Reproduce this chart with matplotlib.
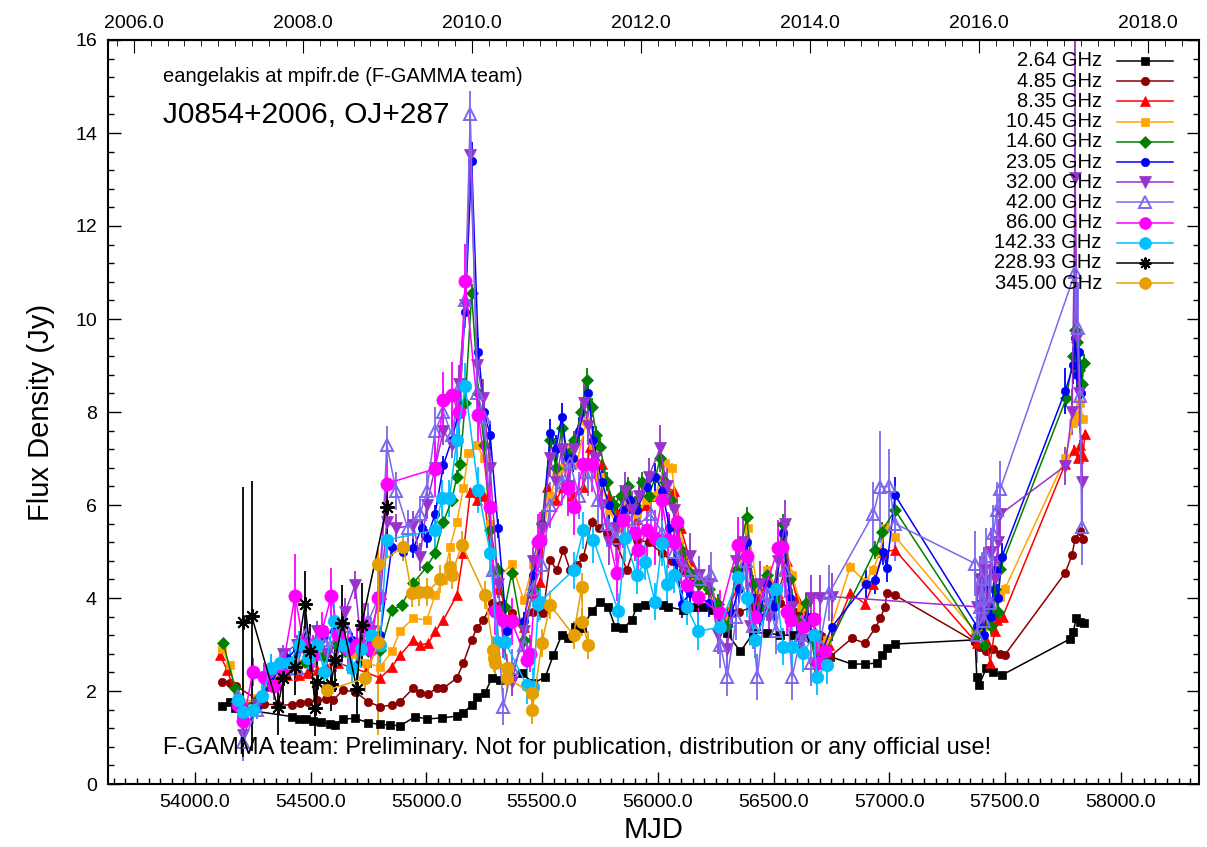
import matplotlib
matplotlib.use('Agg')
import matplotlib.pyplot as plt
from matplotlib.lines import Line2D
from matplotlib.ticker import MultipleLocator, FormatStrFormatter, FixedLocator

plt.rcParams['font.family'] = ['Liberation Sans', 'DejaVu Sans']

# ---------------- data: (MJD, flux density [Jy], error [Jy]) ----------------
s264 = [(54117,1.68,.03),(54152,1.77,.03),(54174,1.63,.03),(54419,1.45,.03),(54451,1.40,.03),(54481,1.40,.03),
        (54511,1.36,.03),(54545,1.33,.03),(54584,1.29,.03),(54606,1.27,.03),(54641,1.40,.03),(54693,1.41,.03),
        (54749,1.32,.03),(54801,1.28,.03),(54844,1.27,.03),(54887,1.25,.03),(54952,1.45,.03),(55002,1.40,.03),
        (55067,1.42,.03),(55132,1.46,.03),(55160,1.53,.03),(55196,1.70,.03),(55218,1.87,.03),(55254,1.96,.03),
        (55283,2.28,.03),(55319,2.24,.03),(55348,2.28,.03),(55412,2.39,.03),(55462,2.17,.03),(55514,2.30,.03),
        (55549,2.77,.03),(55585,3.20,.03),(55613,3.14,.03),(55643,3.38,.03),(55672,3.35,.03),(55715,3.71,.03),
        (55751,3.92,.03),(55785,3.81,.03),(55816,3.38,.03),(55851,3.35,.03),(55888,3.53,.03),(55909,3.81,.03),
        (55945,3.85,.03),(55988,3.92,.03),(56023,3.85,.03),(56045,3.81,.03),(56110,3.74,.03),(56153,3.81,.03),
        (56197,3.81,.03),(56240,3.74,.03),(56298,3.25,.03),(56357,2.85,.03),(56413,3.25,.03),(56471,3.25,.03),
        (56529,3.20,.03),(56585,3.20,.03),(56615,3.17,.03),(56660,3.15,.03),(56700,3.05,.03),(56745,2.74,.03),
        (56838,2.58,.03),(56895,2.58,.03),(56946,2.60,.03),(56967,2.77,.03),(56989,2.92,.03),(57025,3.01,.03),
        (57371,3.10,.03),(57378,2.31,.05),(57388,2.13,.05),(57420,2.50,.03),(57450,2.41,.03),(57486,2.34,.03),
        (57781,3.12,.03),(57795,3.27,.03),(57807,3.56,.03),(57824,3.48,.03),(57841,3.46,.03)]

s485 = [(54117,2.20,.03),(54152,2.17,.03),(54180,2.10,.03),(54300,1.72,.03),(54360,1.70,.03),(54419,1.70,.03),
        (54455,1.74,.03),(54490,1.77,.03),(54530,1.80,.03),(54565,1.83,.03),(54598,1.81,.03),(54641,2.02,.03),
        (54693,1.98,.03),(54749,1.77,.03),(54801,1.66,.03),(54851,1.70,.03),(54887,1.77,.03),(54944,2.06,.03),
        (54973,1.96,.03),(55009,1.94,.03),(55045,2.06,.03),(55074,2.06,.03),(55132,2.28,.03),(55160,2.60,.03),
        (55196,3.10,.03),(55218,3.35,.03),(55247,3.53,.03),(55283,3.89,.03),(55320,3.85,.03),(55369,3.68,.03),
        (55412,3.45,.03),(55460,3.70,.03),(55505,3.68,.03),(55535,4.82,.05),(55563,4.60,.05),(55592,5.03,.05),
        (55621,4.60,.05),(55650,4.70,.05),(55679,4.89,.05),(55715,5.64,.05),(55745,5.50,.05),(55780,5.40,.05),
        (55820,5.20,.05),(55866,4.60,.05),(55909,5.25,.05),(55960,5.20,.05),(56017,4.97,.05),(56060,4.80,.05),
        (56110,4.60,.05),(56153,4.39,.05),(56212,4.24,.05),(56255,3.89,.05),(56298,3.60,.05),(56350,3.70,.05),
        (56413,3.81,.05),(56470,3.70,.05),(56530,3.90,.05),(56600,3.70,.05),(56628,3.74,.05),(56700,3.20,.05),
        (56745,2.74,.05),(56838,3.13,.03),(56895,3.03,.03),(56939,3.35,.03),(56961,3.56,.03),(56982,3.81,.03),
        (56989,4.10,.03),(57025,4.06,.03),(57371,3.06,.05),(57393,2.95,.05),(57420,2.85,.05),(57450,2.90,.05),
        (57479,2.80,.05),(57500,2.78,.05),(57760,4.54,.05),(57789,4.92,.05),(57803,5.27,.05),(57824,5.44,.05),
        (57837,5.27,.05)]

s835 = [(54109,2.77,.05),(54140,2.45,.05),(54181,1.85,.05),(54210,1.70,.05),(54267,1.80,.05),(54330,2.10,.05),
        (54400,2.35,.05),(54450,2.35,.05),(54483,2.38,.05),(54530,2.45,.05),(54570,2.49,.05),(54620,2.60,.05),
        (54680,2.50,.05),(54740,2.40,.05),(54801,2.28,.05),(54851,2.52,.05),(54887,2.77,.05),(54944,3.10,.05),
        (54973,2.99,.05),(55009,3.03,.05),(55038,3.28,.05),(55074,3.53,.05),(55132,4.06,.05),(55160,4.96,.05),
        (55190,6.29,.08),(55218,6.10,.08),(55250,6.20,.08),(55276,5.00,.08),(55310,4.20,.08),(55369,3.60,.08),
        (55420,3.38,.08),(55460,4.10,.08),(55492,4.35,.08),(55520,6.39,.1),(55560,6.10,.1),(55592,6.39,.1),
        (55630,6.20,.1),(55679,6.39,.1),(55708,7.25,.1),(55758,6.89,.1),(55790,6.20,.1),(55830,5.80,.1),
        (55870,6.00,.1),(55910,5.70,.1),(55950,6.00,.1),(55990,6.20,.1),(56030,6.40,.1),(56070,6.30,.1),
        (56100,5.50,.1),(56140,4.80,.1),(56180,4.50,.1),(56220,4.20,.1),(56260,3.90,.1),(56300,3.70,.1),
        (56350,4.30,.1),(56390,4.90,.1),(56430,4.00,.1),(56480,4.40,.1),(56520,4.10,.1),(56560,4.80,.1),
        (56600,4.00,.1),(56650,3.50,.1),(56700,2.90,.1),(56740,3.00,.1),(56831,4.10,.1),(56895,3.88,.1),
        (56930,4.30,.1),(56975,5.00,.1),(57025,5.03,.1),(57378,3.03,.1),(57400,3.30,.1),(57420,3.10,.1),
        (57436,2.60,.1),(57455,3.30,.1),(57466,3.53,.1),(57490,3.60,.1),(57760,6.88,.1),(57800,7.18,.1),
        (57815,7.00,.1),(57824,7.30,.1),(57835,7.05,.1),(57846,7.52,.1)]

s1045 = [(54117,2.90,.05),(54152,2.55,.05),(54181,1.88,.05),(54210,1.75,.05),(54267,1.85,.05),(54330,2.20,.05),
         (54400,2.50,.05),(54450,2.60,.05),(54500,2.70,.05),(54560,2.90,.05),(54620,3.00,.05),(54680,2.80,.05),
         (54740,2.60,.05),(54801,2.52,.05),(54851,2.85,.05),(54887,3.30,.05),(54944,3.56,.05),(55002,3.53,.05),
         (55038,4.06,.05),(55074,4.39,.05),(55103,5.10,.08),(55132,5.63,.08),(55160,6.36,.08),(55182,7.11,.08),
         (55218,7.29,.08),(55250,7.00,.08),(55276,5.60,.08),(55310,4.40,.08),(55369,4.74,.08),(55420,3.96,.08),
         (55462,4.74,.08),(55500,5.30,.1),(55535,6.20,.1),(55560,6.60,.1),(55590,6.80,.1),(55620,7.20,.1),
         (55650,6.90,.1),(55690,7.80,.1),(55720,7.30,.1),(55750,6.60,.1),(55790,5.90,.1),(55830,5.50,.1),
         (55870,6.00,.1),(55910,5.80,.1),(55950,6.10,.1),(55990,6.20,.1),(56030,6.90,.1),(56060,6.80,.1),
         (56090,5.60,.1),(56120,4.90,.1),(56160,4.50,.1),(56200,4.30,.1),(56250,3.90,.1),(56300,3.60,.1),
         (56350,4.60,.1),(56390,5.50,.1),(56430,4.20,.1),(56470,4.60,.1),(56510,4.20,.1),(56543,5.39,.1),
         (56580,4.50,.1),(56620,3.80,.1),(56680,3.00,.1),(56730,3.10,.1),(56831,4.67,.1),(56895,4.35,.1),
         (56930,4.60,.1),(56960,5.00,.1),(56982,5.50,.1),(57025,5.32,.1),(57371,3.28,.1),(57390,3.60,.1),
         (57410,3.40,.1),(57430,3.90,.1),(57450,3.70,.1),(57466,4.10,.1),(57479,4.03,.1),(57500,4.20,.1),
         (57760,7.00,.1),(57795,7.77,.1),(57810,7.90,.1),(57824,8.20,.1),(57837,7.85,.1)]

s1460 = [(54123,3.03,.12),(54174,2.06,.1),(54210,1.65,.1),(54267,1.81,.1),(54330,2.20,.1),(54400,2.45,.1),
         (54476,2.63,.1),(54520,2.90,.1),(54560,2.75,.1),(54610,3.00,.1),(54650,2.85,.1),(54700,3.00,.1),
         (54750,2.85,.1),(54801,2.88,.1),(54851,3.74,.1),(54894,3.85,.1),(54944,4.32,.1),(55002,4.67,.1),
         (55038,4.96,.1),(55074,5.64,.1),(55110,6.10,.15),(55132,6.61,.15),(55146,6.89,.15),(55168,8.20,.2),
         (55196,10.55,.2),(55225,8.40,.2),(55250,7.30,.2),(55276,5.46,.15),(55310,4.60,.15),(55340,3.80,.15),
         (55369,4.53,.15),(55420,3.10,.15),(55460,4.20,.15),(55500,5.60,.2),(55535,7.40,.2),(55560,6.80,.2),
         (55585,7.65,.2),(55610,7.10,.2),(55640,7.40,.2),(55670,8.00,.2),(55693,8.69,.25),(55715,8.10,.2),
         (55735,7.50,.2),(55751,7.25,.2),(55780,6.50,.2),(55810,6.00,.2),(55840,6.20,.2),(55870,6.40,.2),
         (55900,6.00,.2),(55930,6.50,.2),(55960,6.20,.2),(55990,6.60,.2),(56010,7.00,.2),(56030,6.50,.2),
         (56055,6.10,.2),(56082,5.53,.2),(56110,5.00,.2),(56140,4.53,.2),(56180,4.30,.2),(56220,4.20,.2),
         (56262,3.88,.2),(56300,3.40,.2),(56340,4.60,.2),(56385,5.75,.2),(56410,4.30,.2),(56440,3.80,.2),
         (56470,4.50,.2),(56500,4.00,.2),(56540,5.60,.2),(56570,4.40,.2),(56600,3.50,.2),(56640,3.90,.2),
         (56680,2.60,.2),(56720,2.80,.2),(56939,5.03,.2),(56967,5.43,.2),(57025,5.89,.2),(57378,3.20,.2),
         (57395,3.60,.2),(57410,3.00,.2),(57425,3.90,.2),(57440,3.40,.2),(57455,4.20,.2),(57470,3.70,.2),
         (57479,4.62,.2),(57765,8.30,.2),(57795,9.20,.2),(57803,9.77,.2),(57810,9.50,.2),(57818,8.90,.2),
         (57824,9.00,.2),(57833,8.60,.2),(57840,9.05,.2)]

s2305 = [(54185,1.75,.1),(54210,1.55,.1),(54267,1.66,.1),(54330,2.20,.1),(54400,2.70,.15),(54440,2.92,.15),
         (54480,3.10,.15),(54520,2.90,.15),(54560,3.20,.15),(54600,3.30,.15),(54640,3.00,.15),(54680,3.10,.15),
         (54720,2.90,.15),(54760,3.05,.15),(54801,3.20,.15),(54851,5.10,.2),(54900,5.00,.2),(54944,5.07,.2),
         (54980,5.50,.2),(55002,5.28,.2),(55038,5.80,.2),(55074,6.86,.2),(55110,7.40,.2),(55140,8.00,.2),
         (55168,10.16,.3),(55196,13.40,.4),(55225,9.30,.3),(55250,8.00,.3),(55276,7.50,.3),(55310,5.50,.2),
         (55348,3.30,.2),(55369,3.53,.2),(55420,3.50,.2),(55460,4.50,.2),(55500,5.20,.2),(55535,7.54,.3),
         (55560,7.20,.3),(55585,7.90,.3),(55610,7.00,.3),(55635,7.00,.3),(55660,7.60,.3),(55700,8.40,.3),
         (55722,7.40,.3),(55758,6.50,.3),(55790,6.00,.3),(55823,5.68,.3),(55850,5.90,.3),(55880,6.10,.3),
         (55910,5.90,.3),(55953,6.39,.3),(55988,6.61,.3),(56020,6.30,.3),(56050,5.50,.3),(56080,4.80,.3),
         (56103,3.88,.3),(56140,4.10,.3),(56180,4.00,.3),(56220,3.90,.3),(56270,3.70,.3),(56319,3.67,.3),
         (56350,4.20,.3),(56385,5.20,.3),(56410,4.00,.3),(56440,3.60,.3),(56470,4.30,.3),(56500,3.80,.3),
         (56540,5.40,.3),(56570,4.00,.3),(56610,3.20,.3),(56650,3.60,.3),(56690,2.60,.3),(56752,3.38,.3),
         (56900,4.30,.3),(56939,4.39,.3),(56975,5.00,.3),(56989,4.64,.3),(57025,6.21,.4),(57378,3.40,.3),
         (57395,3.90,.3),(57410,3.20,.3),(57425,4.20,.3),(57440,3.60,.3),(57455,4.60,.3),(57470,4.00,.3),
         (57486,4.88,.3),(57760,8.45,.5),(57795,9.00,.4),(57803,9.60,.4),(57812,8.80,.4),(57820,9.30,.4),
         (57830,8.40,.4)]

s3200 = [(54185,1.70,.15),(54210,1.05,.2),(54267,1.70,.15),(54330,2.40,.2),(54380,2.80,.2),(54440,3.00,.2),
         (54490,2.70,.2),(54530,3.30,.2),(54570,2.80,.2),(54610,3.20,.2),(54650,3.70,.3),(54693,4.28,.3),
         (54720,2.90,.3),(54760,3.30,.3),(54801,4.00,.3),(54829,5.64,.3),(54870,5.50,.3),(54944,5.57,.3),
         (54973,4.89,.3),(55002,6.00,.3),(55038,6.80,.3),(55074,7.60,.3),(55110,7.30,.3),(55140,8.60,.4),
         (55168,10.30,.4),(55190,13.52,.5),(55220,9.00,.4),(55245,8.30,.4),(55276,6.80,.4),(55310,4.30,.3),
         (55333,3.00,.3),(55370,2.20,.3),(55420,3.30,.3),(55460,4.80,.3),(55500,5.50,.4),(55535,7.00,.4),
         (55560,6.50,.4),(55585,7.20,.4),(55610,6.40,.4),(55640,7.20,.4),(55680,8.20,.5),(55700,7.70,.4),
         (55730,7.00,.4),(55760,6.00,.5),(55790,5.20,.5),(55820,5.50,.4),(55860,6.30,.4),(55890,5.90,.4),
         (55920,6.20,.4),(55960,6.60,.4),(56010,7.22,.5),(56040,6.40,.4),(56070,5.90,.4),(56100,4.70,.4),
         (56140,4.90,.5),(56180,4.50,.4),(56220,4.30,.4),(56260,3.20,.4),(56300,2.90,.4),(56340,4.80,.4),
         (56370,5.20,.5),(56400,3.40,.4),(56440,4.30,.5),(56480,3.60,.4),(56520,4.80,.5),(56550,5.60,.5),
         (56580,3.80,.4),(56620,3.10,.4),(56660,4.00,.5),(56701,3.99,.5),(56752,4.03,.5),(57378,3.81,.5),
         (57390,4.40,.5),(57400,3.60,.5),(57410,4.60,.5),(57425,3.90,.5),(57440,5.00,.5),(57455,4.40,.5),
         (57470,5.20,.5),(57480,5.80,.6),(57760,6.84,.4),(57790,8.00,.5),(57803,13.03,3.2),(57812,9.60,.8),
         (57820,8.40,.7),(57831,6.50,1.0)]

s4200 = [(54185,1.90,.2),(54210,0.90,.4),(54267,1.60,.2),(54330,2.50,.3),(54380,2.70,.3),(54440,2.50,.3),
         (54480,3.20,.3),(54520,2.80,.3),(54570,3.10,.3),(54610,2.70,.3),(54650,3.40,.4),(54700,3.00,.4),
         (54750,3.50,.4),(54801,4.10,.4),(54829,7.30,.4),(54870,6.30,.4),(54920,5.50,.4),(54973,5.80,.4),
         (55002,6.30,.4),(55038,7.60,.5),(55074,8.00,.5),(55110,7.50,.5),(55150,8.60,.5),(55168,10.40,.6),
         (55190,14.40,.5),(55220,8.40,.5),(55250,7.90,.5),(55290,4.60,.5),(55333,1.66,.4),(55370,2.50,.4),
         (55420,3.00,.4),(55460,4.20,.4),(55500,4.70,.4),(55535,6.00,.5),(55585,6.50,.5),(55620,6.90,.5),
         (55660,6.20,.5),(55700,6.70,.5),(55740,6.10,.5),(55780,5.60,.5),(55820,5.30,.5),(55870,5.70,.5),
         (55920,5.60,.5),(55970,5.80,.5),(56020,5.40,.5),(56070,5.00,.5),(56120,4.60,.5),(56180,4.40,.5),
         (56230,4.50,.5),(56270,3.00,.5),(56300,2.30,.4),(56340,3.60,.5),(56380,4.80,.6),(56410,3.40,.5),
         (56430,2.30,.5),(56470,4.10,.6),(56510,3.30,.5),(56550,4.60,.6),(56580,2.30,.5),(56620,3.20,.5),
         (56660,2.60,.5),(56700,3.00,.5),(56740,4.10,.6),(56930,5.80,.7),(56961,6.39,1.2),(57000,6.40,.8),
         (57025,5.60,.8),(57371,4.74,.7),(57380,3.20,.6),(57390,3.80,.6),(57400,4.40,.6),(57410,3.50,.6),
         (57420,4.90,.6),(57435,3.90,.6),(57450,5.40,.6),(57465,5.90,.6),(57480,6.35,.6),(57803,11.00,1.5),
         (57815,9.80,1.0),(57825,8.35,.8),(57831,5.52,.8)]

s8600 = [(54185,1.70,.3),(54210,1.35,.3),(54250,2.40,.3),(54300,2.30,.3),(54340,2.10,.3),(54380,2.50,.4),
         (54433,4.05,.9),(54470,3.00,.4),(54510,2.80,.4),(54550,3.30,.4),(54590,4.05,.6),(54620,3.20,.4),
         (54660,2.90,.4),(54700,3.00,.4),(54730,3.40,.5),(54760,2.90,.4),(54790,4.00,.5),(54829,6.46,.5),
         (55038,6.78,.6),(55074,8.25,.6),(55110,8.37,.7),(55140,8.00,.7),(55168,10.82,.8),(55225,7.93,.6),
         (55276,5.96,.5),(55297,3.71,.5),(55333,3.53,.5),(55369,3.50,.5),(55433,2.67,.4),(55450,2.80,.4),
         (55484,5.21,.6),(55492,5.25,.6),(55614,6.36,.6),(55636,5.96,.6),(55679,6.89,.6),(55715,6.89,.6),
         (55823,4.53,.6),(55851,5.68,.6),(55900,5.40,.6),(55916,5.03,.6),(55953,5.46,.6),(55988,5.30,.6),
         (56017,6.11,.6),(56045,5.25,.6),(56068,5.20,.6),(56082,5.64,.6),(56125,4.28,.6),(56175,4.03,.6),
         (56269,3.67,.5),(56348,5.14,.6),(56385,4.90,.6),(56421,3.60,.5),(56521,5.07,.6),(56536,5.10,.6),
         (56560,3.70,.5),(56577,3.53,.5),(56629,3.38,.5),(56673,3.55,.5),(56694,2.60,.4),(56723,2.85,.4)]

s14233 = [(54185,1.80,.3),(54210,1.55,.3),(54250,1.60,.3),(54290,1.90,.3),(54330,2.50,.3),(54370,2.60,.3),
          (54410,2.60,.3),(54450,3.00,.3),(54490,2.70,.3),(54530,3.00,.3),(54560,2.40,.3),(54600,3.50,.4),
          (54640,3.00,.3),(54680,2.50,.3),(54720,2.90,.4),(54760,3.20,.4),(54800,3.00,.4),(54829,5.25,.4),
          (55038,5.46,.4),(55067,6.14,.4),(55100,6.14,.4),(55132,7.40,.5),(55168,8.55,.5),(55225,6.32,.5),
          (55276,4.96,.5),(55305,3.06,.4),(55340,3.06,.4),(55433,2.13,.4),(55462,2.09,.4),(55484,3.88,.4),
          (55492,3.92,.4),(55636,4.60,.4),(55679,5.46,.4),(55722,5.25,.5),(55830,3.71,.4),(55859,5.28,.5),
          (55909,4.49,.4),(55945,4.78,.4),(55988,3.92,.4),(56017,5.18,.5),(56039,4.31,.4),(56070,4.50,.4),
          (56125,3.81,.4),(56175,3.28,.4),(56269,3.38,.4),(56348,4.46,.4),(56385,3.99,.4),(56421,3.10,.4),
          (56510,4.20,.4),(56543,2.95,.4),(56580,2.95,.4),(56629,2.81,.4),(56673,3.20,.4),(56687,2.31,.4),
          (56730,2.56,.4)]

s22893 = [(54210,3.49,2.9),(54246,3.61,2.9),(54358,1.66,.6),(54383,2.27,.5),(54433,2.52,.6),(54476,3.87,.7),
          (54498,2.85,.6),(54520,1.64,.6),(54528,2.20,.6),(54589,2.16,.6),(54606,2.67,.7),(54638,3.47,.8),
          (54700,2.05,.6),(54721,3.43,.9),(54829,5.96,.6)]

s34500 = [(54570,2.02,.3),(54736,2.27,.3),(54793,3.06,2.0),(54793,4.74,.3),(54901,5.10,.3),(54937,4.10,.3),
          (54970,4.12,.3),(55002,4.12,.3),(55060,4.40,.3),(55103,4.67,.3),(55110,4.50,.3),(55153,5.14,.3),
          (55254,4.06,.3),(55290,2.88,.3),(55292,2.70,.3),(55295,2.60,.3),(55348,2.49,.3),(55350,2.28,.3),
          (55456,1.95,.3),(55458,1.59,.3),(55499,3.03,.3),(55535,3.85,.3),(55636,3.20,.3),(55672,4.24,.3),
          (55674,3.49,.3),(55700,2.99,.3)]

labels = ['2.64 GHz', '4.85 GHz', '8.35 GHz', '10.45 GHz', '14.60 GHz', '23.05 GHz',
          '32.00 GHz', '42.00 GHz', '86.00 GHz', '142.33 GHz', '228.93 GHz', '345.00 GHz']
all_series = [s264, s485, s835, s1045, s1460, s2305, s3200, s4200, s8600, s14233, s22893, s34500]
year_ticks = [2006, 2008, 2010, 2012, 2014, 2016, 2018]

# ---------------- styles ----------------
colors = ['#000000', '#8B0000', '#FF0000', '#FFA500', '#008000', '#0000FF',
          '#9932CC', '#7B68EE', '#FF00FF', '#00BFFF', '#000000', '#E69F00']
markers = ['s', 'o', '^', 's', 'D', 'o', 'v', '^', 'o', 'o', (8, 2, 0), 'o']
msizes = [5.5, 6.0, 7.0, 6.0, 6.5, 6.0, 8.0, 8.0, 9.5, 9.0, 10.5, 9.0]
open_marker = [False]*7 + [True] + [False]*4

W, H = 1207, 847
fig = plt.figure(figsize=(W/100, H/100), dpi=100)
ax = fig.add_axes([108/W, 1-784/H, (1199-108)/W, (784-40)/H])

def mew_for(mk, op):
    return 1.4 if (op or mk == (8, 2, 0)) else 0.5

for ser, col, mk, ms, op in zip(all_series, colors, markers, msizes, open_marker):
    x = [p[0] for p in ser]
    y = [p[1] for p in ser]
    e = [p[2] for p in ser]
    ax.errorbar(x, y, yerr=e, color=col, ecolor=col, elinewidth=1.3, capsize=0,
                lw=1.1, marker=mk, ms=ms,
                mfc=('none' if op else col), mec=col, mew=mew_for(mk, op))

ax.set_xlim(53625, 58338)
ax.set_ylim(0, 16)
ax.xaxis.set_major_locator(MultipleLocator(500))
ax.xaxis.set_minor_locator(MultipleLocator(50))
ax.xaxis.set_major_formatter(FormatStrFormatter('%.1f'))
ax.yaxis.set_major_locator(MultipleLocator(2))
ax.yaxis.set_minor_locator(MultipleLocator(0.4))
ax.tick_params(which='both', direction='in', right=True, top=False, width=1.0)
ax.tick_params(which='major', length=9)
ax.tick_params(which='minor', length=4)
ax.tick_params(axis='x', which='major', labelsize=14, pad=7)
ax.tick_params(axis='y', which='major', labelsize=14, pad=8)
for sp in ax.spines.values():
    sp.set_linewidth(1.5)

def mjd2yr(m):
    return 2010.0 + (m - 55197.0) / 365.25

def yr2mjd(yv):
    return 55197.0 + (yv - 2010.0) * 365.25

sec = ax.secondary_xaxis('top', functions=(mjd2yr, yr2mjd))
sec.xaxis.set_major_locator(FixedLocator(year_ticks))
sec.xaxis.set_minor_locator(MultipleLocator(0.2))
sec.xaxis.set_major_formatter(FormatStrFormatter('%.1f'))
sec.tick_params(which='both', direction='in', labelsize=14, pad=6)
sec.tick_params(which='major', length=9)
sec.tick_params(which='minor', length=4)
sec.spines['top'].set_linewidth(1.5)

ax.set_xlabel('MJD', fontsize=21, labelpad=4)
ax.set_ylabel('Flux Density (Jy)', fontsize=21)
ax.yaxis.set_label_coords(-0.049, 0.5)

fig.text(163/W, 1-77/H, 'eangelakis at mpifr.de (F-GAMMA team)', fontsize=14.5, va='center', ha='left')
fig.text(163/W, 1-115/H, 'J0854+2006, OJ+287', fontsize=21.5, va='center', ha='left')
fig.text(163/W, 1-748/H, 'F-GAMMA team: Preliminary. Not for publication, distribution or any official use!',
         fontsize=17, va='center', ha='left')

# legend drawn row by row (text right-aligned, sample line with marker)
for i, (lab, col, mk, ms, op) in enumerate(zip(labels, colors, markers, msizes, open_marker)):
    yrow = 1 - (61 + i * 20.2) / H
    fig.text(1102/W, yrow, lab, fontsize=14.5, ha='right', va='center')
    fig.add_artist(Line2D([1117/W, 1173/W], [yrow, yrow], color=col, lw=1.1,
                          transform=fig.transFigure))
    fig.add_artist(Line2D([1145/W], [yrow], color=col, marker=mk, ms=min(ms, 8.5), ls='none',
                          mfc=('none' if op else col), mec=col, mew=mew_for(mk, op),
                          transform=fig.transFigure))

fig.savefig('out.png', dpi=100)
